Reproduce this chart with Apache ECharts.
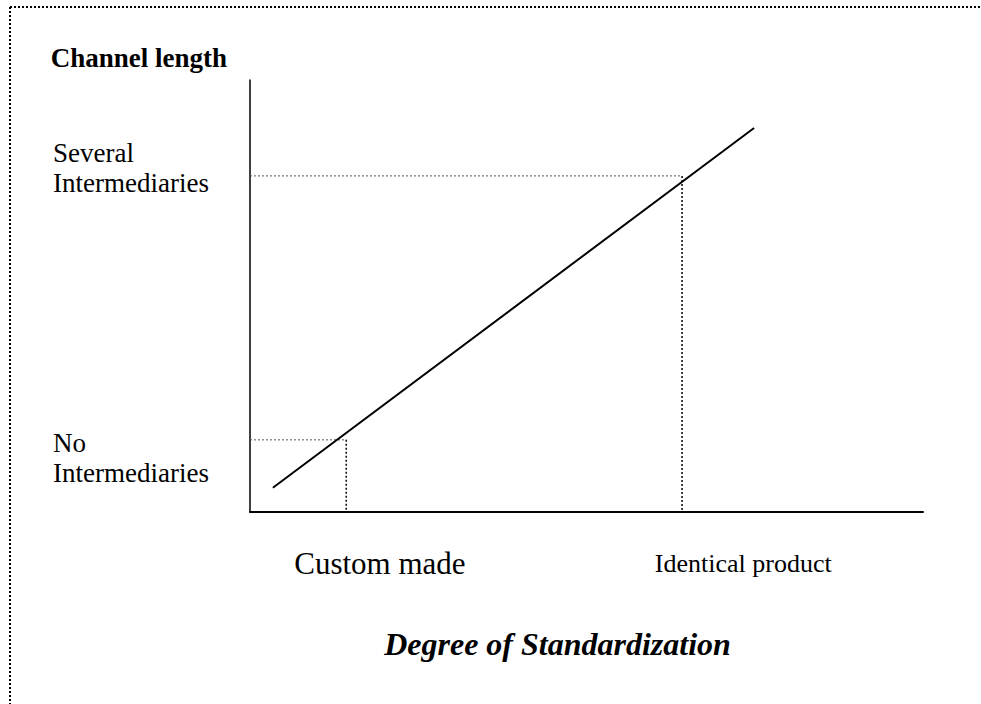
<!DOCTYPE html>
<html>
<head>
<meta charset="utf-8">
<script src="https://cdn.jsdelivr.net/npm/echarts@6/dist/echarts.min.js"></script>
<style>
  html, body { margin: 0; padding: 0; background: #fff; }
  #chart-container { width: 981px; height: 704px; }
</style>
</head>
<body>
<div id="chart-container"></div>
<script>
/* ── Dados ──────────────────────────────────────────────────────────────── */
var lineX = [3.4, 74.9]          // reta: grau de padronização
var lineY = [5.6, 88.9]          // reta: comprimento do canal
var guideX = [14.3, 64.2]        // pontos de referência (linhas pontilhadas)
var guideY = [16.7, 77.8]
var xTickValues = [19.3, 73.3]
var xTickLabels = ['Custom made', 'Identical product']
var yTickValues = [12.6, 79.7]
var yTickLabels = ['No\nIntermediaries', 'Several\nIntermediaries']

var FONT = "'Liberation Serif', 'Times New Roman', serif"

var myChart = echarts.init(document.getElementById('chart-container'), null, { renderer: 'svg' })

var lineData = lineX.map(function(x, i) { return [x, lineY[i]] })

/* ── Linhas-guia pontilhadas ─────────────────────────────────────────────── */
var guideSeries = []
guideX.forEach(function(gx, i) {
  var gy = guideY[i]
  guideSeries.push({
    type: 'line', data: [[0, gy], [gx, gy]], symbol: 'none', silent: true,
    lineStyle: { color: '#555', width: 1, type: [2, 2] }
  })
  guideSeries.push({
    type: 'line', data: [[gx, gy], [gx, 0]], symbol: 'none', silent: true,
    lineStyle: { color: '#111', width: 1.6, type: [2, 2] }
  })
})

myChart.setOption({
  animation: false,
  backgroundColor: '#fff',
  textStyle: { fontFamily: FONT },
  grid: { left: 250, right: 58, top: 80, bottom: 192 },
  graphic: [
    { type: 'line', shape: { x1: 10, y1: 7, x2: 981, y2: 7 },
      style: { stroke: '#000', lineWidth: 2, lineDash: [2, 2] } },
    { type: 'line', shape: { x1: 10, y1: 7, x2: 10, y2: 704 },
      style: { stroke: '#000', lineWidth: 2, lineDash: [2, 2] } }
  ],
  xAxis: {
    type: 'value', min: 0, max: 100,
    name: 'Degree of Standardization',
    nameLocation: 'middle',
    nameGap: 116,
    nameTextStyle: {
      fontFamily: FONT, fontSize: 32, fontWeight: 'bold', fontStyle: 'italic',
      color: '#000', lineHeight: 32, padding: [0, 58, 0, 0]
    },
    axisLine: { lineStyle: { color: '#000', width: 2 } },
    axisTick: { show: false },
    splitLine: { show: false },
    axisLabel: {
      customValues: xTickValues,
      margin: 36,
      color: '#000',
      formatter: function(v) {
        var i = xTickValues.indexOf(v)
        return i === 0 ? '{a|' + xTickLabels[0] + '}' : '{b|' + xTickLabels[i] + '}'
      },
      rich: {
        a: { fontFamily: FONT, fontSize: 31, lineHeight: 31, color: '#000' },
        b: { fontFamily: FONT, fontSize: 26, lineHeight: 31, color: '#000' }
      }
    }
  },
  yAxis: {
    type: 'value', min: 0, max: 100,
    name: 'Channel length',
    nameLocation: 'end',
    nameGap: 9,
    nameTextStyle: {
      fontFamily: FONT, fontSize: 27, fontWeight: 'bold', color: '#000',
      align: 'right', lineHeight: 27, padding: [0, 23, 0, 0]
    },
    axisLine: { lineStyle: { color: '#000', width: 1.5 } },
    axisTick: { show: false },
    splitLine: { show: false },
    axisLabel: {
      customValues: yTickValues,
      align: 'left',
      margin: 197,
      fontFamily: FONT,
      fontSize: 27,
      lineHeight: 30,
      color: '#000',
      formatter: function(v) { return yTickLabels[yTickValues.indexOf(v)] }
    }
  },
  series: guideSeries.concat([{
    type: 'line',
    data: lineData,
    symbol: 'none',
    lineStyle: { color: '#000', width: 2 }
  }])
})
</script>
</body>
</html>
